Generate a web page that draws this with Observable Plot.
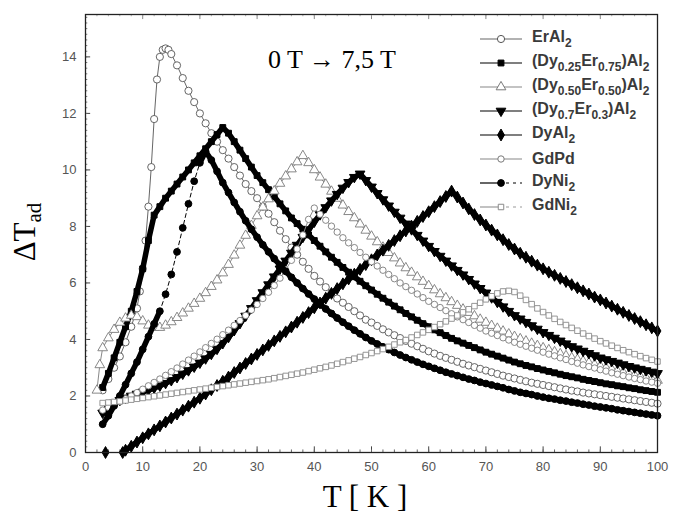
<!DOCTYPE html>
<html><head><meta charset="utf-8">
<script src="https://cdn.jsdelivr.net/npm/d3@7"></script>
<script src="https://cdn.jsdelivr.net/npm/@observablehq/plot@0.6"></script>
<style>
body{margin:0;background:#fff;}
#wrap{position:relative;width:673px;height:517px;overflow:hidden;}
.ov{position:absolute;white-space:nowrap;}
.serif{font-family:"Liberation Serif","Times New Roman",serif;color:#000;}
#legend{position:absolute;left:478px;top:27px;font-family:"Liberation Sans",Arial,sans-serif;font-weight:bold;font-size:16px;color:#3a3a3a;}
#legend .row{height:24px;display:flex;align-items:center;}
#legend svg{margin-right:8px;}
#legend sub{font-size:12px;vertical-align:-5px;}
</style></head><body><div id="wrap"></div>
<script>
// Temperature grid (K)
const temps = [3,4,5,6,7,8,9,
10,11,12,13,14,15,16,17,18,19,
20,21,22,23,24,25,26,27,28,29,
30,31,32,33,34,35,36,37,38,39,
40,41,42,43,44,45,46,47,48,49,
50,51,52,53,54,55,56,57,58,59,
60,61,62,63,64,65,66,67,68,69,
70,71,72,73,74,75,76,77,78,79,
80,81,82,83,84,85,86,87,88,89,
90,91,92,93,94,95,96,97,98,99,
100];

const erAl2 = [2.2,2.6,3.0,3.4,3.9,4.45,5.1,
6.5,8.7,11.8,14.0,14.3,14.1,13.7,13.25,12.8,12.4,
12.0,11.65,11.3,11.0,10.7,10.4,10.1,9.8,9.5,9.25,
9.0,8.7,8.45,8.15,7.85,7.55,7.25,7.0,6.75,6.5,
6.25,6.05,5.85,5.65,5.45,5.3,5.15,5.0,4.85,4.7,
4.6,4.48,4.36,4.25,4.15,4.05,3.95,3.85,3.76,3.67,
3.58,3.5,3.42,3.35,3.28,3.21,3.14,3.08,3.02,2.96,
2.9,2.84,2.78,2.72,2.67,2.62,2.57,2.52,2.47,2.43,
2.39,2.35,2.31,2.27,2.23,2.19,2.16,2.12,2.09,2.06,
2.03,2.0,1.97,1.94,1.91,1.88,1.85,1.82,1.79,1.76,
1.73];
const erAl2Extra = [[9.5,5.7],[10.5,7.5],[11.5,10.1],[12.5,13.2],[13.5,14.25],[14.5,14.25]];

const dy025 = [2.3,2.8,3.35,3.9,4.45,5.0,5.7,
6.5,7.5,8.4,8.7,9.0,9.25,9.5,9.75,10.0,10.25,
10.5,10.75,11.0,11.25,11.5,11.3,11.0,10.7,10.4,10.1,
9.8,9.55,9.3,9.05,8.8,8.55,8.3,8.1,7.9,7.7,
7.5,7.3,7.1,6.91,6.73,6.55,6.38,6.22,6.06,5.9,
5.75,5.6,5.46,5.32,5.18,5.05,4.92,4.8,4.68,4.56,
4.45,4.34,4.24,4.14,4.04,3.95,3.87,3.79,3.71,3.63,
3.55,3.48,3.41,3.34,3.27,3.2,3.14,3.08,3.03,2.97,
2.92,2.87,2.82,2.77,2.72,2.68,2.64,2.59,2.55,2.51,
2.47,2.43,2.4,2.36,2.33,2.29,2.26,2.22,2.19,2.16,
2.13];

const dy050 = [3.7,4.05,4.35,4.6,4.75,4.85,4.8,
4.65,4.5,4.42,4.42,4.5,4.62,4.77,4.93,5.1,5.27,
5.45,5.65,5.87,6.1,6.35,6.65,6.98,7.33,7.68,8.03,
8.37,8.68,8.97,9.25,9.52,9.78,10.03,10.28,10.5,10.25,
10.0,9.74,9.49,9.24,8.99,8.75,8.52,8.3,8.08,7.86,
7.65,7.45,7.26,7.07,6.88,6.7,6.53,6.37,6.21,6.05,
5.9,5.75,5.61,5.47,5.33,5.2,5.07,4.95,4.83,4.71,
4.6,4.49,4.39,4.29,4.19,4.1,4.02,3.94,3.86,3.78,
3.7,3.63,3.56,3.49,3.42,3.35,3.29,3.23,3.17,3.11,
3.05,2.99,2.94,2.88,2.83,2.78,2.73,2.68,2.64,2.59,
2.55];
const dy050Extra = [[2,2.2],[2.5,3.1]];

const dy070 = [1.4,1.6,1.75,1.85,1.93,2.0,2.07,
2.14,2.21,2.28,2.36,2.45,2.55,2.66,2.78,2.9,3.03,
3.17,3.32,3.48,3.66,3.86,4.08,4.32,4.57,4.83,5.1,
5.38,5.66,5.94,6.22,6.5,6.78,7.06,7.34,7.62,7.89,
8.16,8.42,8.67,8.91,9.14,9.36,9.56,9.74,9.86,9.63,
9.4,9.17,8.95,8.73,8.51,8.3,8.09,7.89,7.69,7.49,
7.3,7.12,6.95,6.78,6.61,6.45,6.29,6.13,5.97,5.81,
5.65,5.48,5.32,5.16,5.0,4.85,4.73,4.61,4.49,4.37,
4.25,4.15,4.05,3.95,3.85,3.75,3.67,3.59,3.51,3.43,
3.35,3.29,3.23,3.17,3.11,3.05,3.0,2.95,2.9,2.85,
2.8];

const dyAl2 = [null,null,null,null,0.08,0.22,0.37,
0.52,0.66,0.8,0.94,1.08,1.22,1.36,1.5,1.64,1.78,
1.92,2.07,2.22,2.37,2.52,2.67,2.83,2.99,3.15,3.31,
3.47,3.63,3.79,3.95,4.11,4.27,4.44,4.61,4.78,4.95,
5.12,5.29,5.46,5.63,5.8,5.97,6.14,6.31,6.48,6.65,
6.82,6.99,7.16,7.33,7.5,7.67,7.84,8.01,8.18,8.35,
8.52,8.7,8.88,9.06,9.25,9.04,8.83,8.62,8.42,8.23,
8.05,7.87,7.7,7.53,7.36,7.2,7.05,6.91,6.77,6.63,
6.5,6.38,6.27,6.16,6.05,5.94,5.83,5.72,5.61,5.5,
5.4,5.29,5.18,5.07,4.96,4.85,4.74,4.63,4.52,4.41,
4.3];
const dyAl2Extra = [[3.5,0],[6.5,0]];

const gdPd = [1.5,1.6,1.7,1.8,1.9,2.0,2.12,
2.24,2.36,2.48,2.6,2.73,2.86,2.99,3.13,3.27,3.41,
3.56,3.71,3.86,4.01,4.17,4.33,4.5,4.67,4.85,5.04,
5.24,5.45,5.67,5.91,6.17,6.46,6.8,7.2,7.7,8.25,
8.65,8.43,8.22,8.01,7.8,7.6,7.42,7.25,7.08,6.91,
6.75,6.6,6.45,6.3,6.15,6.0,5.87,5.74,5.61,5.48,
5.35,5.24,5.13,5.02,4.91,4.8,4.7,4.6,4.5,4.4,
4.3,4.22,4.14,4.06,3.98,3.9,3.83,3.76,3.69,3.62,
3.55,3.48,3.42,3.35,3.29,3.22,3.16,3.1,3.04,2.99,
2.93,2.88,2.82,2.77,2.72,2.67,2.62,2.58,2.53,2.49,
2.45];

const dyNi2 = [1.0,1.3,1.65,2.0,2.4,2.8,3.2,
3.65,4.1,4.55,5.0,5.6,6.3,7.1,7.95,8.8,9.6,
10.25,10.65,10.35,9.95,9.55,9.2,8.85,8.52,8.2,7.9,
7.62,7.35,7.1,6.86,6.63,6.41,6.2,6.0,5.8,5.61,
5.43,5.25,5.08,4.92,4.76,4.61,4.47,4.33,4.2,4.07,
3.95,3.84,3.74,3.64,3.54,3.45,3.36,3.28,3.2,3.12,
3.05,2.98,2.91,2.84,2.78,2.72,2.66,2.6,2.55,2.49,
2.44,2.39,2.34,2.29,2.23,2.18,2.13,2.09,2.05,2.0,
1.96,1.92,1.89,1.85,1.82,1.78,1.75,1.71,1.68,1.64,
1.61,1.58,1.55,1.51,1.48,1.45,1.42,1.39,1.36,1.33,
1.3];

const gdNi2 = [1.75,1.77,1.79,1.81,1.84,1.87,1.9,
1.93,1.96,1.99,2.02,2.05,2.08,2.11,2.14,2.17,2.2,
2.23,2.26,2.29,2.32,2.35,2.38,2.41,2.44,2.47,2.5,
2.53,2.56,2.59,2.63,2.67,2.71,2.75,2.79,2.83,2.88,
2.93,2.98,3.03,3.08,3.14,3.2,3.26,3.32,3.38,3.45,
3.52,3.59,3.66,3.74,3.82,3.9,3.98,4.07,4.16,4.25,
4.34,4.44,4.54,4.64,4.74,4.85,4.96,5.07,5.18,5.3,
5.42,5.53,5.63,5.7,5.72,5.68,5.55,5.4,5.25,5.1,
4.97,4.85,4.73,4.62,4.51,4.41,4.31,4.21,4.12,4.03,
3.94,3.86,3.78,3.7,3.62,3.55,3.48,3.41,3.34,3.28,
3.22];

const xTicks = [0,10,20,30,40,50,60,70,80,90,100];
const yTicks = [0,2,4,6,8,10,12,14];
const annotation = "0 T \u2192 7,5 T";

// symbols
const triangleDown = {
  draw(context, size) {
    const y = -Math.sqrt(size / (Math.sqrt(3) * 3));
    context.moveTo(0, -y * 2);
    context.lineTo(-Math.sqrt(3) * y, y);
    context.lineTo(Math.sqrt(3) * y, y);
    context.closePath();
  }
};

function rows(vals, extra = []) {
  const r = temps.map((t, i) => ({T: t, v: vals[i]})).filter(d => d.v != null);
  extra.forEach(([t, v]) => r.push({T: t, v}));
  r.sort((a, b) => a.T - b.T);
  return r;
}

const series = [
  {key:"ErAl2", data: rows(erAl2, erAl2Extra), symbol:"circle", r:3.6, fill:"white", stroke:"#555", line:"#666", dash:null, sw:0.9, band:false},
  {key:"Dy025", data: rows(dy025), symbol:"square", r:3.3, fill:"#000", stroke:"#000", line:"#000", dash:null, sw:1, band:true},
  {key:"Dy050", data: rows(dy050, dy050Extra), symbol:"triangle", r:3.6, fill:"white", stroke:"#7a7a7a", line:"#888", dash:null, sw:0.9, band:false},
  {key:"Dy070", data: rows(dy070), symbol:triangleDown, r:3.6, fill:"#000", stroke:"#000", line:"#000", dash:null, sw:1, band:true},
  {key:"DyAl2", data: rows(dyAl2, dyAl2Extra), symbol:"diamond", r:3.6, fill:"#000", stroke:"#000", line:"#000", dash:null, sw:1, band:true, bandFrom:6.5},
  {key:"GdPd", data: rows(gdPd), symbol:"circle", r:3.2, fill:"white", stroke:"#7a7a7a", line:"#888", dash:null, sw:0.9, band:false},
  {key:"DyNi2", data: rows(dyNi2), symbol:"circle", r:3.4, fill:"#000", stroke:"#000", line:"#000", dash:"4,3", sw:1, band:true, bandGap:[13, 20]},
  {key:"GdNi2", data: rows(gdNi2), symbol:"square", r:3.1, fill:"white", stroke:"#8a8a8a", line:"#999", dash:"4,3", sw:0.9, band:false}
];

const marks = [];
for (const s of series) {
  if (s.band) {
    const from = s.bandFrom ?? -Infinity;
    if (s.bandGap) {
      marks.push(Plot.line(s.data.filter(d => d.T <= s.bandGap[0]), {x:"T", y:"v", stroke:"#000", strokeWidth:5.5}));
      marks.push(Plot.line(s.data.filter(d => d.T >= s.bandGap[1]), {x:"T", y:"v", stroke:"#000", strokeWidth:5.5}));
    } else {
      marks.push(Plot.line(s.data.filter(d => d.T >= from), {x:"T", y:"v", stroke:"#000", strokeWidth:5.5}));
    }
  }
  marks.push(Plot.line(s.data, {x:"T", y:"v", stroke:s.line, strokeWidth:1, strokeDasharray:s.dash}));
  marks.push(Plot.dot(s.data, {x:"T", y:"v", symbol:s.symbol, r:s.r, fill:s.fill, stroke:s.stroke, strokeWidth:s.sw}));
}

const xMinor = d3.range(0, 101, 2);
const yMinor = d3.range(0, 15.5, 0.2);
const yTop = 15.5;

const chart = Plot.plot({
  width: 673, height: 517,
  marginTop: 14, marginRight: 16, marginBottom: 65, marginLeft: 85,
  style: {fontFamily: "'Liberation Sans', Arial, sans-serif", fontSize: "13px", color: "#555", background: "white"},
  x: {domain: [0, 100], ticks: xTicks, tickSize: 0, tickPadding: 9, label: null},
  y: {domain: [0, yTop], ticks: yTicks, tickSize: 0, tickPadding: 9, label: null},
  marks: [
    Plot.ruleX(xTicks, {y1: 0, y2: 0.2, stroke: "#444"}),
    Plot.ruleX(xMinor, {y1: 0, y2: 0.09, stroke: "#666"}),
    Plot.ruleX(xTicks, {y1: yTop - 0.18, y2: yTop, stroke: "#888"}),
    Plot.ruleX(xMinor, {y1: yTop - 0.08, y2: yTop, stroke: "#aaa"}),
    Plot.ruleY(yTicks, {x1: 0, x2: 0.9, stroke: "#444"}),
    Plot.ruleY(yMinor, {x1: 0, x2: 0.4, stroke: "#777"}),
    ...marks,
    Plot.frame({stroke: "#222", strokeWidth: 1.3})
  ]
});

const wrap = document.getElementById("wrap");
wrap.appendChild(chart);

// axis titles and annotation
const yl = document.createElement("div");
yl.className = "ov serif";
yl.style.cssText = "left:27px;top:232px;font-size:31px;transform:translate(-50%,-50%) rotate(-90deg);";
yl.innerHTML = "&Delta;T<sub style='font-size:21px;vertical-align:-6px'>ad</sub>";
wrap.appendChild(yl);

const xl = document.createElement("div");
xl.className = "ov serif";
xl.style.cssText = "left:365px;top:497px;font-size:31px;transform:translate(-50%,-50%);";
xl.textContent = "T [ K ]";
wrap.appendChild(xl);

const an = document.createElement("div");
an.className = "ov serif";
an.style.cssText = "left:268px;top:45px;font-size:26px;";
an.textContent = annotation;
wrap.appendChild(an);

// legend
const legendLabels = [
  "ErAl<sub>2</sub>",
  "(Dy<sub>0.25</sub>Er<sub>0.75</sub>)Al<sub>2</sub>",
  "(Dy<sub>0.50</sub>Er<sub>0.50</sub>)Al<sub>2</sub>",
  "(Dy<sub>0.7</sub>Er<sub>0.3</sub>)Al<sub>2</sub>",
  "DyAl<sub>2</sub>",
  "GdPd",
  "DyNi<sub>2</sub>",
  "GdNi<sub>2</sub>"
];
const lg = document.createElement("div");
lg.id = "legend";
series.forEach((s, i) => {
  const row = document.createElement("div");
  row.className = "row";
  const svg = d3.create("svg").attr("width", 46).attr("height", 14);
  if (s.dash) {
    svg.append("line").attr("x1", 2).attr("x2", 24).attr("y1", 7).attr("y2", 7)
      .attr("stroke", s.line).attr("stroke-width", 1.2);
    svg.append("line").attr("x1", 28).attr("x2", 44).attr("y1", 7).attr("y2", 7)
      .attr("stroke", s.line).attr("stroke-width", 1.2).attr("stroke-dasharray", "3,4");
  } else {
    svg.append("line").attr("x1", 2).attr("x2", 44).attr("y1", 7).attr("y2", 7)
      .attr("stroke", s.line).attr("stroke-width", 1.2);
  }
  const sym = typeof s.symbol === "string" ? d3["symbol" + s.symbol[0].toUpperCase() + s.symbol.slice(1)] : s.symbol;
  svg.append("path").attr("transform", "translate(23,7)")
    .attr("d", d3.symbol(sym, Math.PI * s.r * s.r)())
    .attr("fill", s.fill).attr("stroke", s.stroke).attr("stroke-width", 1);
  row.appendChild(svg.node());
  const t = document.createElement("span");
  t.innerHTML = legendLabels[i];
  row.appendChild(t);
  lg.appendChild(row);
});
wrap.appendChild(lg);
</script>
</body></html>
